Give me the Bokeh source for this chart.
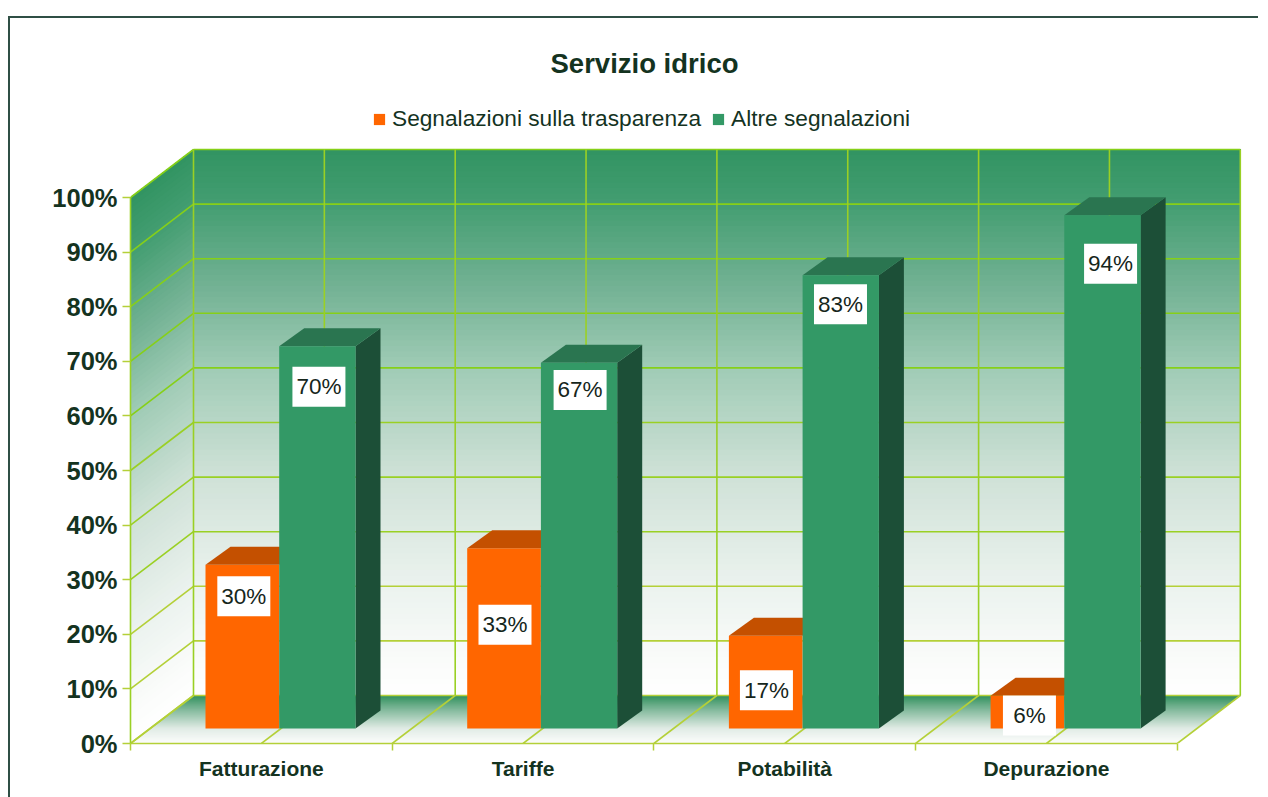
from bokeh.plotting import figure
from bokeh.models import Range1d, FixedTicker, Legend, LegendItem
from bokeh.embed import file_html
from bokeh.resources import INLINE
import numpy as np

categories = ["Fatturazione", "Tariffe", "Potabilità", "Depurazione"]
trasparenza = [30, 33, 17, 6]
altre = [70, 67, 83, 94]
label_level_trasparenza = [24.2, 19, 7, 2.4]
label_level_altre = [62.6, 62, 77.7, 85.1]
label_pos_trasparenza = [0.433, 1.431, 2.430, 3.435]
label_pos_altre = [0.720, 1.718, 2.713, 3.745]
y_ticks = list(range(0, 101, 10))
title_text = "Servizio idrico"
series_names = ["Segnalazioni sulla trasparenza", "Altre segnalazioni"]

PX_X, PX_Y = 261.7, 5.46
FRAME_W, FRAME_H = 1128, 643
DX, DY = 63 / PX_X, 48 / PX_Y
BAR_DX, BAR_DY = 25 / PX_X, 18 / PX_Y
BASE = 15 / PX_Y
O_L, O_R, G_R = 75 / PX_X, 148.7 / PX_X, 225 / PX_X
N = len(categories)

ORANGE, ORANGE_TOP = "#ff6600", "#c45000"
GREEN, GREEN_TOP, GREEN_SIDE = "#339966", "#2a7550", "#1c4f37"
GRID_HI, GRID_MID, GRID_LO = "#86d018", "#9ad024", "#b4d038"
INK = "#14331f"

p = figure(width=1250, height=781, frame_width=FRAME_W, frame_height=FRAME_H,
           output_backend="svg", toolbar_location=None,
           x_range=Range1d(0, FRAME_W / PX_X), y_range=Range1d(0, FRAME_H / PX_Y),
           min_border_left=120, min_border_right=0, min_border_top=82, min_border_bottom=54,
           background_fill_color="white", border_fill_color="white", outline_line_color=None,
           margin=(16, 0, 0, 8),
           styles={"border-top": "2px solid #2f4f45", "border-left": "2px solid #2f4f45"})
p.grid.visible = False


def mix(t):
    stops_t = [0, 5, 20, 40, 60, 75, 90, 100]
    r = np.interp(t, stops_t, [255, 252, 236, 208, 160, 115, 68, 50])
    g = np.interp(t, stops_t, [255, 253, 243, 226, 204, 178, 158, 148])
    b = np.interp(t, stops_t, [255, 252, 239, 216, 182, 148, 114, 98])
    return "#%02x%02x%02x" % (int(r), int(g), int(b))


# back wall and side wall gradient bands, painted bottom-up so that no seams show
levels = np.arange(0, 100, 1.0)
p.quad(left=[DX] * len(levels), right=[DX + N] * len(levels),
       bottom=levels + DY, top=[100 + DY] * len(levels),
       fill_color=[mix(l + .5) for l in levels], line_color=None)
p.patches(xs=[[0, DX, DX, 0] for _ in levels],
          ys=[[l, l + DY, 100 + DY, 100] for l in levels],
          fill_color=[mix(l + .5) for l in levels], line_color=None)

# floor gradient, painted front to back
fl = np.linspace(0, 1, 48, endpoint=False)
stops_f = [0, .3, .7, 1]
def floor_col(t):
    r = np.interp(t, stops_f, [252, 225, 130, 46])
    g = np.interp(t, stops_f, [253, 236, 185, 143])
    b = np.interp(t, stops_f, [252, 230, 155, 92])
    return "#%02x%02x%02x" % (int(r), int(g), int(b))
p.patches(xs=[[f * DX, N + f * DX, N + DX, DX] for f in fl],
          ys=[[f * DY, f * DY, DY, DY] for f in fl],
          fill_color=[floor_col(f) for f in fl], line_color=None)

# grid lines
half = [i / 2 for i in range(2 * N + 1)]
grid_lvls = list(range(0, 101, 10))
grid_col = [GRID_HI if l >= 60 else GRID_MID if l >= 30 else GRID_LO for l in grid_lvls]
xs = [[DX, DX + N] for _ in grid_lvls] + [[0, DX] for _ in grid_lvls]
ys = [[l + DY, l + DY] for l in grid_lvls] + [[l, l + DY] for l in grid_lvls]
cols = grid_col + grid_col
xs += [[h + DX, h + DX] for h in half] + [[h, h + DX] for h in half]
ys += [[DY, 100 + DY] for _ in half] + [[0, DY] for _ in half]
cols += [GRID_MID] * len(half) + [GRID_LO] * len(half)
p.multi_line(xs=xs, ys=ys, line_color=cols, line_width=1.6)

# bars
idx = np.arange(N)
orange_tops = np.array(trasparenza, float) + BASE
green_tops = np.array(altre, float) + BASE
r_orange = p.quad(left=idx + O_L, right=idx + O_R, bottom=[BASE] * N, top=orange_tops,
                  fill_color=ORANGE, line_color=None)
p.patches(xs=[[i + O_L, i + O_L + BAR_DX, i + O_R + BAR_DX, i + O_R] for i in idx],
          ys=[[t, t + BAR_DY, t + BAR_DY, t] for t in orange_tops],
          fill_color=ORANGE_TOP, line_color=None)
p.patches(xs=[[i + G_R, i + G_R + BAR_DX, i + G_R + BAR_DX, i + G_R] for i in idx],
          ys=[[BASE, BASE + BAR_DY, t + BAR_DY, t] for t in green_tops],
          fill_color=GREEN_SIDE, line_color=None)
p.patches(xs=[[i + O_R, i + O_R + BAR_DX, i + G_R + BAR_DX, i + G_R] for i in idx],
          ys=[[t, t + BAR_DY, t + BAR_DY, t] for t in green_tops],
          fill_color=GREEN_TOP, line_color=None)
r_green = p.quad(left=idx + O_R, right=idx + G_R, bottom=[BASE] * N, top=green_tops,
                 fill_color=GREEN, line_color=None)

# value labels
lx = label_pos_trasparenza + label_pos_altre
ly = np.array(label_level_trasparenza + label_level_altre) + BASE
p.rect(x=lx, y=ly, width=53, height=40, width_units="screen", height_units="screen",
       fill_color="white", line_color=None)
p.text(x=lx, y=ly, text=[f"{v}%" for v in trasparenza + altre], text_align="center",
       text_baseline="middle", text_font_size="22.5px", text_color="#16261b",
       text_font={"value": "Liberation Sans"})

# axes
yax = p.yaxis[0]
yax.ticker = FixedTicker(ticks=y_ticks)
yax.major_label_overrides = {t: f"{t}%" for t in y_ticks}
yax.bounds = (0, 100)
yax.axis_line_color = GRID_MID
yax.axis_line_width = 1.6
yax.major_tick_line_color = GRID_LO
yax.major_tick_line_width = 1.5
yax.major_tick_in = 0
yax.major_tick_out = 8
yax.minor_tick_line_color = None
yax.major_label_standoff = 5
yax.major_label_text_font = "Liberation Sans"
yax.major_label_text_font_style = "bold"
yax.major_label_text_font_size = "25.5px"
yax.major_label_text_color = INK

xax = p.xaxis[0]
xax.ticker = FixedTicker(ticks=[i + .5 for i in range(N)], minor_ticks=list(range(N + 1)))
xax.major_label_overrides = {i + .5: c for i, c in enumerate(categories)}
xax.bounds = (0, N)
xax.axis_line_color = GRID_LO
xax.axis_line_width = 1.6
xax.major_tick_line_color = None
xax.major_tick_in = 0
xax.major_tick_out = 0
xax.minor_tick_line_color = GRID_LO
xax.minor_tick_line_width = 1.5
xax.minor_tick_in = 0
xax.minor_tick_out = 7
xax.major_label_standoff = 6
xax.major_label_text_font = "Liberation Sans"
xax.major_label_text_font_style = "bold"
xax.major_label_text_font_size = "21px"
xax.major_label_text_color = INK

# title
p.title.text = title_text
p.title.align = "left"
p.title.offset = 420
p.title.standoff = 44
p.title.text_font = "Liberation Sans"
p.title.text_font_style = "bold"
p.title.text_font_size = "27.5px"
p.title.text_color = INK

# legend
legend = Legend(items=[LegendItem(label=series_names[0], renderers=[r_orange]),
                       LegendItem(label=series_names[1], renderers=[r_green])],
                orientation="horizontal", location=(242, 611),
                glyph_width=14, glyph_height=14, label_text_font="Liberation Sans",
                label_text_font_size="22.7px", label_text_color=INK, label_standoff=6,
                spacing=10, padding=0, margin=0, border_line_color=None,
                background_fill_alpha=0)
p.add_layout(legend, "center")

open("out.html", "w").write(file_html(p, INLINE))
